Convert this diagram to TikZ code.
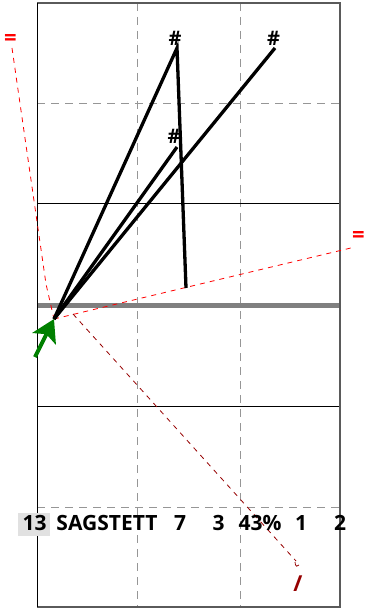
\documentclass[tikz,border=0pt]{standalone}
\usepackage{fontspec}
\setmainfont{Open Sans}
\usetikzlibrary{arrows.meta}
\definecolor{boxgray}{RGB}{225,225,225}
\definecolor{gridgray}{RGB}{150,150,150}
\definecolor{framegray}{RGB}{90,90,90}
\definecolor{darkred2}{RGB}{150,0,0}
\definecolor{arrowgreen}{RGB}{0,128,0}
\begin{document}
\begin{tikzpicture}[x=1pt,y=-1pt,
  gridline/.style={gridgray, dash pattern=on 8pt off 6pt, line width=0.9pt},
  solidline/.style={black, line width=0.9pt},
  redline/.style={red, dash pattern=on 5pt off 5pt, line width=0.8pt},
  darkredline/.style={darkred2, dash pattern=on 5pt off 5pt, line width=0.8pt},
  blackline/.style={black, line width=3.3pt},
  hashlabel/.style={font=\bfseries\fontsize{20}{20}\selectfont, inner sep=0pt},
  rowlabel/.style={font=\bfseries\fontsize{21}{21}\selectfont, inner sep=0pt, anchor=base},
  eqlabel/.style={red, font=\bfseries\fontsize{22}{22}\selectfont, inner sep=0pt},
]
\useasboundingbox (0,0) rectangle (365,609);

% grid
\draw[gridline] (137,3) -- (137,607);
\draw[gridline] (240,3) -- (240,607);
\draw[gridline] (37,103) -- (340,103);
\draw[gridline] (37,507) -- (340,507);
\draw[solidline] (37,203) -- (340,203);
\draw[solidline] (37,406) -- (340,406);
\draw[gray, line width=5pt] (37,305) -- (340,305);
% frame
\draw[framegray, line width=1.2pt] (37,3) -- (340,3) -- (340,607) -- (37,607);
\draw[black, line width=1pt] (37,3) -- (37,607);

% points
\coordinate (o) at (54,319);
\coordinate (p1) at (177,48);
\coordinate (p1b) at (186,288);
\coordinate (p2) at (275,48);
\coordinate (p3) at (177,147);
\coordinate (j) at (73,314);
\coordinate (lt) at (12,48);
\coordinate (lk) at (46,284);
\coordinate (rt) at (355,247);
\coordinate (bt) at (296,561);

% red dashed
\draw[redline] (lt) -- (lk) -- (o);
\draw[redline] (o) -- (rt);
\draw[darkredline] (j) -- (bt);
\draw[darkred2, line width=0.8pt] (295,562) .. controls (295,567) and (298,567) .. (299,565);

% black lines
\draw[blackline, line join=miter] (o) -- (p1) -- (p1b);
\draw[blackline] (o) -- (p2);
\draw[blackline] (o) -- (p3);

% green arrow
\draw[arrowgreen, line width=4pt, -{Stealth[length=22pt,width=26pt,inset=5pt]}] (35,357) -- (o);

% labels
\node[hashlabel] (h1) at (175,38.5) {\#};
\node[hashlabel] (h2) at (273.5,38.5) {\#};
\node[hashlabel] (h3) at (174,136) {\#};
\node[eqlabel] (e1) at (10.5,40) {=};
\node[eqlabel] (e2) at (358.5,236.5) {=};
\node[darkred2, font=\bfseries\fontsize{22}{22}\selectfont, inner sep=0pt] (sl) at (298,584) {/};

% row
\fill[boxgray] (18,513) rectangle (50,536);
\node[rowlabel] (t13) at (34.5,530) {13};
\node[rowlabel] (tname) at (107,530) {SAGSTETT};
\node[rowlabel] (t7) at (180,530) {7};
\node[rowlabel] (t3) at (218.5,530) {3};
\node[rowlabel] (tpct) at (260,530) {43\%};
\node[rowlabel] (t1) at (301,530) {1};
\node[rowlabel] (t2) at (340,530) {2};
\end{tikzpicture}
\end{document}
